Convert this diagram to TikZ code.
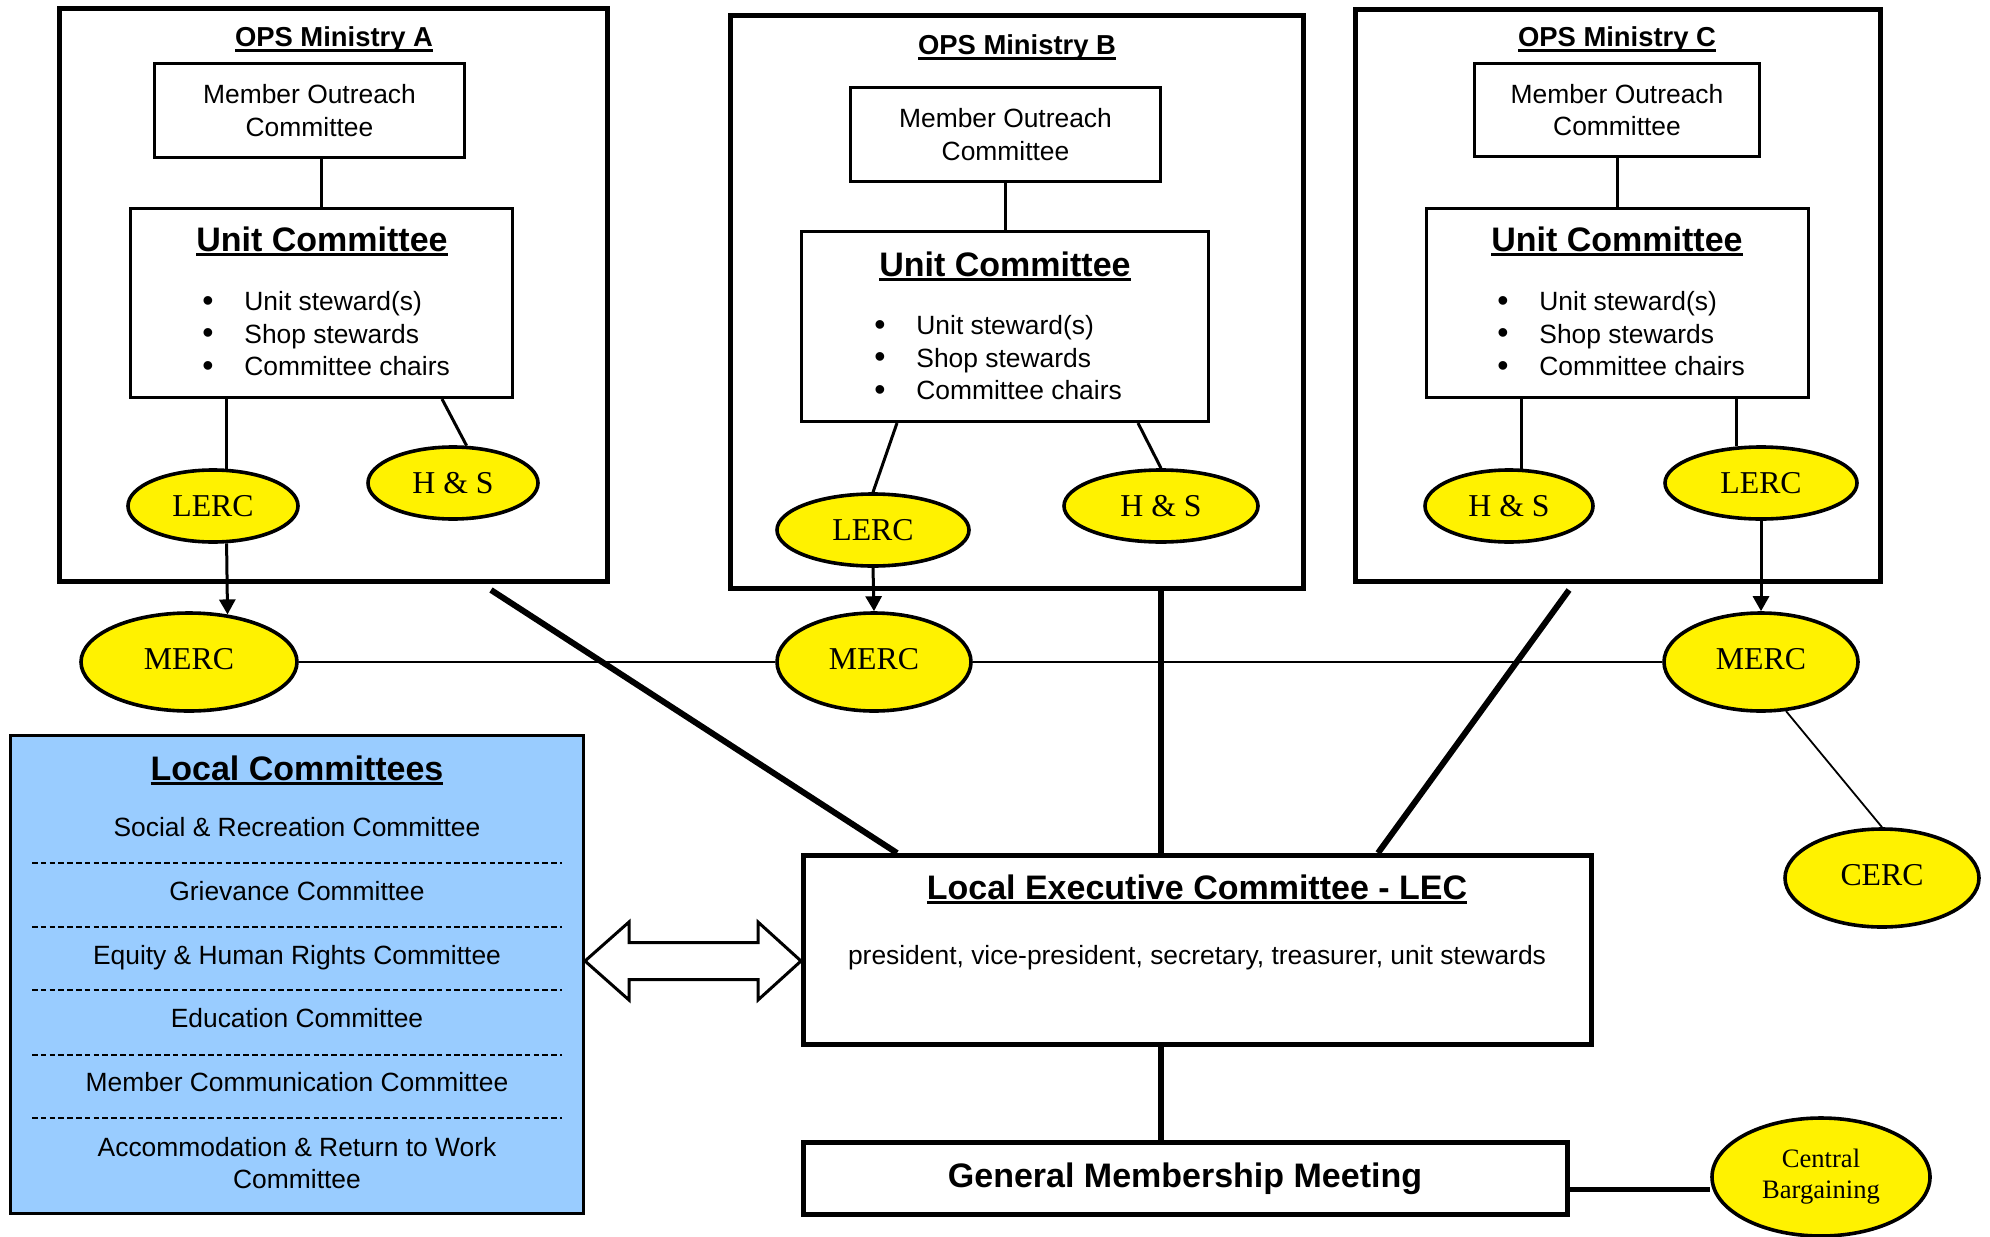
\documentclass[tikz,border=0pt]{standalone}
\usepackage{fontspec}
\setmainfont{Liberation Sans}
\newfontfamily\timesfam{Liberation Serif}
\usetikzlibrary{arrows.meta,calc,shapes.geometric}
\definecolor{lcblue}{HTML}{99CCFF}
\newlength\myulw
\newcommand\myul[1]{\settowidth\myulw{#1}\rlap{\rule[-2.3pt]{\myulw}{1.1pt}}#1}
\newcommand\myfN{\fontsize{13.2}{16.25}\selectfont}
\newcommand\myfT{\fontsize{13.7}{16}\selectfont\bfseries}
\newcommand\myfH{\fontsize{17}{20}\selectfont\bfseries}
\newcommand\myfE{\fontsize{15.9}{18}\selectfont\timesfam}
\newcommand\myfCB{\fontsize{13.3}{15.5}\selectfont\timesfam}
\newcommand\bul{\makebox[21pt][l]{{\fontsize{16}{16}\selectfont\raisebox{-0.4pt}{\textbullet}}}}
\newcommand\upt[1]{\raisebox{3.5pt}{#1}}
\newcommand\dnt[1]{\raisebox{-0.8pt}{#1}}
\begin{document}
\begin{tikzpicture}[x=0.5pt,y=-0.5pt,
  minbox/.style={draw,line width=2.5pt,inner sep=0,rectangle},
  mocbox/.style={draw,line width=1.5pt,inner sep=0,rectangle,align=center,font=\myfN},
  unitbox/.style={draw,line width=1.5pt,inner sep=0,rectangle},
  lecbox/.style={draw,line width=2.5pt,inner sep=0,rectangle,fill=white},
  oval/.style={ellipse,draw,line width=1.8pt,fill=yellow,inner sep=0,font=\myfE},
  txt/.style={inner sep=0},
  conn/.style={line width=1.5pt},
  arr/.style={line width=1.5pt,-{Triangle[length=7.5pt,width=8pt]}},
  thinln/.style={line width=0.9pt},
  heavy/.style={line width=3pt},
  dashln/.style={line width=0.8pt,dash pattern=on 2.8pt off 1.6pt},
]
\useasboundingbox (0,0) rectangle (1990,1236);

% ---------- Ministry boxes ----------
\node[minbox,minimum width=274pt,minimum height=286.5pt] (minA) at (333.5,295) {};
\node[minbox,minimum width=286.5pt,minimum height=286.5pt] (minB) at (1017,302) {};
\node[minbox,minimum width=262.5pt,minimum height=286pt] (minC) at (1618,295.5) {};

\node[txt,font=\myfT,anchor=base] (tiA) at (334,47) {\myul{OPS Ministry A}};
\node[txt,font=\myfT,anchor=base] (tiB) at (1017,55) {\myul{OPS Ministry B}};
\node[txt,font=\myfT,anchor=base] (tiC) at (1617,47) {\myul{OPS Ministry C}};

% Member outreach
\node[mocbox,minimum width=155pt,minimum height=47pt] (mocA) at (309.5,110.5) {Member Outreach\\Committee};
\node[mocbox,minimum width=155pt,minimum height=47pt] (mocB) at (1005.5,134.5) {Member Outreach\\Committee};
\node[mocbox,minimum width=142.5pt,minimum height=46.5pt] (mocC) at (1617,110) {Member Outreach\\Committee};

% Unit committees
\node[unitbox,minimum width=191pt,minimum height=94.5pt] (unitA) at (321.5,303) {};
\node[unitbox,minimum width=203.5pt,minimum height=95pt] (unitB) at (1005,326.5) {};
\node[unitbox,minimum width=191pt,minimum height=94.5pt] (unitC) at (1617.5,303) {};

\node[txt,font=\myfH,anchor=base] (utA) at (322,251) {\myul{Unit Committee}};
\node[txt,font=\myfH,anchor=base] (utB) at (1005,276) {\myul{Unit Committee}};
\node[txt,font=\myfH,anchor=base] (utC) at (1617,251) {\myul{Unit Committee}};

\node[txt,font=\myfN,align=left,anchor=west] (ulA) at (202,334) {\bul Unit steward(s)\\\bul Shop stewards\\\bul Committee chairs};
\node[txt,font=\myfN,align=left,anchor=west] (ulB) at (874,358) {\bul Unit steward(s)\\\bul Shop stewards\\\bul Committee chairs};
\node[txt,font=\myfN,align=left,anchor=west] (ulC) at (1497,334) {\bul Unit steward(s)\\\bul Shop stewards\\\bul Committee chairs};

% Ovals inside ministries
\node[oval,minimum width=85pt,minimum height=36pt] (lercA) at (213,506) {\dnt{LERC}};
\node[oval,minimum width=85pt,minimum height=36pt] (hsA) at (453,483) {\dnt{H \& S}};
\node[oval,minimum width=96pt,minimum height=36pt] (lercB) at (873,530) {\dnt{LERC}};
\node[oval,minimum width=97pt,minimum height=36pt] (hsB) at (1161,506) {\dnt{H \& S}};
\node[oval,minimum width=84pt,minimum height=36pt] (hsC) at (1509,506) {\dnt{H \& S}};
\node[oval,minimum width=96pt,minimum height=36pt] (lercC) at (1761,483) {\dnt{LERC}};

% MERCs etc
\node[oval,minimum width=108pt,minimum height=49pt] (mercA) at (189,662) {\upt{MERC}};
\node[oval,minimum width=97pt,minimum height=49pt] (mercB) at (874,662) {\upt{MERC}};
\node[oval,minimum width=97pt,minimum height=49pt] (mercC) at (1761,662) {\upt{MERC}};
\node[oval,minimum width=97pt,minimum height=49pt] (cerc) at (1882,878) {\upt{CERC}};

% ---------- connectors inside ministries ----------
\draw[conn] (mocA.south -| unitA.north) -- (unitA.north);
\draw[conn] (mocB.south -| unitB.north) -- (unitB.north);
\draw[conn] (mocC.south -| unitC.north) -- (unitC.north);

\draw[conn] (lercA.70 |- unitA.south) -- (lercA.70);
\draw[conn] ([xshift=-36pt]unitA.south east) -- (hsA.70);
\draw[conn] ([xshift=48.5pt]unitB.south west) -- (lercB.north);
\draw[conn] ([xshift=-36pt]unitB.south east) -- (hsB.north);
\draw[conn] (hsC.71.4 |- unitC.south) -- (hsC.71.4);
\draw[conn] (lercC.124.5 |- unitC.south) -- (lercC.124.5);

\draw[arr] (lercA.-70) -- (mercA.51.2);
\draw[arr] (lercB.south) -- (mercB.north);
\draw[arr] (lercC.south) -- (mercC.north);

\draw[thinln] (mercA.east) -- (mercB.west);
\draw[thinln] (mercB.east) -- (mercC.west);
\draw[thinln] (mercC.-63.2) -- (cerc.north);

% ---------- Local committees ----------
\node[draw,line width=1.5pt,fill=lcblue,inner sep=0,minimum width=286.5pt,minimum height=239pt] (lc) at (297,974.5) {};
\node[txt,font=\myfH,anchor=base] (lcT) at (297,780) {\myul{Local Committees}};
\node[txt,font=\myfN,anchor=base] (lc1) at (297,836) {Social \& Recreation Committee};
\node[txt,font=\myfN,anchor=base] (lc2) at (297,900) {Grievance Committee};
\node[txt,font=\myfN,anchor=base] (lc3) at (297,964) {Equity \& Human Rights Committee};
\node[txt,font=\myfN,anchor=base] (lc4) at (297,1027) {Education Committee};
\node[txt,font=\myfN,anchor=base] (lc5) at (297,1091) {Member Communication Committee};
\node[txt,font=\myfN,anchor=base] (lc6) at (297,1156) {Accommodation \& Return to Work};
\node[txt,font=\myfN,anchor=base] (lc6b) at (297,1188) {Committee};
\foreach \yy in {863,927,990,1055,1118}
  \draw[dashln] (32,\yy) -- (562,\yy);

% ---------- LEC and GMM ----------
\node[lecbox,minimum width=394pt,minimum height=94.5pt] (lec) at (1197.5,950) {};
\node[txt,font=\myfH,anchor=base] (lecT) at (1197,899) {\myul{Local Executive Committee - LEC}};
\node[txt,font=\myfN,anchor=base] (lecM) at (1197,964) {president, vice-president, secretary, treasurer, unit stewards};

\node[lecbox,minimum width=382pt,minimum height=36pt] (gmm) at (1185.5,1178.5) {};
\node[txt,font=\myfH,anchor=base] (gmmT) at (1185,1187) {General Membership Meeting};

\node[oval,minimum width=109pt,minimum height=59pt,font=\myfCB,align=center] (cb) at (1821,1177) {Central\\Bargaining};

% double arrow
\draw[line width=1.5pt,fill=white,line join=miter]
  (lc.east |- 0,961) -- (629,922) -- (629,942.5) -- (758,942.5) -- (758,922)
  -- (lec.west |- 0,961) -- (758,1000) -- (758,979.5) -- (629,979.5) -- (629,1000) -- cycle;

% heavy lines
\coordinate (tA) at (491,590);
\coordinate (tB) at (1161,589);
\coordinate (tC) at (1569,590);
\draw[heavy] (tA) -- ([xshift=48pt]lec.north west);
\draw[heavy] (tB) -- (tB |- lec.north);
\draw[heavy] (tC) -- ([xshift=288.5pt]lec.north west);
\draw[heavy] (tB |- lec.south) -- (tB |- gmm.north);
\draw[line width=2.5pt] ([yshift=-5.5pt]gmm.east) -- ([yshift=-5.5pt]gmm.east -| cb.west);
\end{tikzpicture}
\end{document}
